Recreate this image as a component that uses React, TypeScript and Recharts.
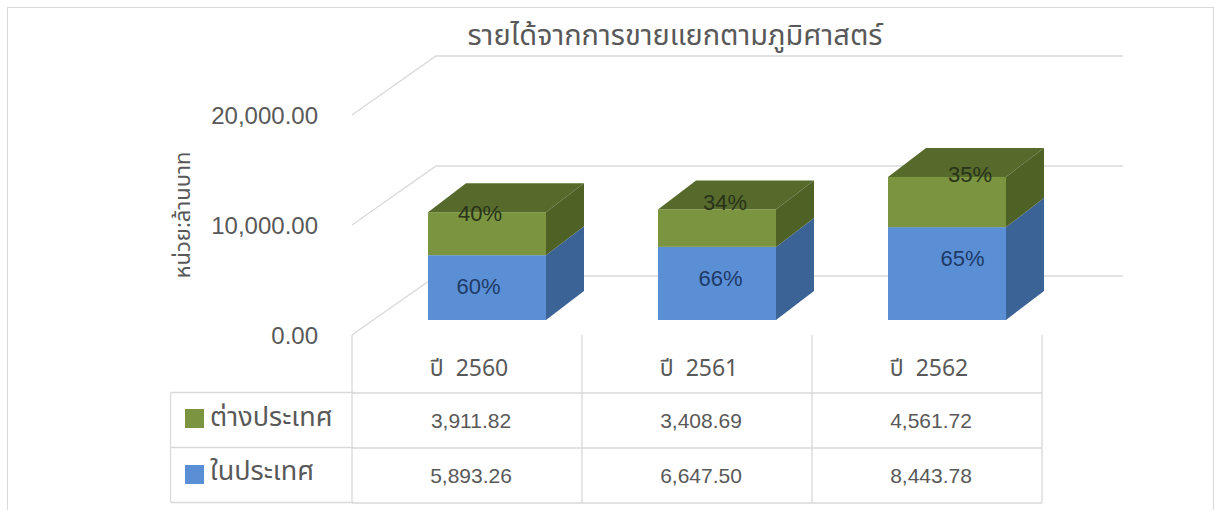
import React from "react";
import { ComposedChart, Bar, XAxis, YAxis, CartesianGrid, Legend } from "recharts";

// ---------- data ----------
const categories = ["ปี  2560", "ปี  2561", "ปี  2562"];
const foreignValues = [3911.82, 3408.69, 4561.72];
const domesticValues = [5893.26, 6647.5, 8443.78];
const yTicks = [0, 10000, 20000];
const FOREIGN_NAME = "ต่างประเทศ";
const DOMESTIC_NAME = "ในประเทศ";
const TITLE = "รายได้จากการขายแยกตามภูมิศาสตร์";
const Y_TITLE = "หน่วย:ล้านบาท";
const tableRowOrder = [FOREIGN_NAME, DOMESTIC_NAME];

const data = categories.map((c, i) => ({
  year: c,
  domestic: domesticValues[i],
  foreign: foreignValues[i],
}));

// ---------- style ----------
const BLUE = { front: "#5A8FD6", side: "#3B6396" };
const GREEN = { front: "#7A9440", side: "#4E6226", top: "#566B2B" };
const WALL_DX = 84;
const WALL_DY = -59;
const BAR_OFF_X = 20;
const BAR_OFF_Y = -15;
const BAR_DX = 38;
const BAR_DY = -29;
const TEXT = "#595959";
const GRID = "#D9D9D9";
const FONT = "'Liberation Sans', Arial, 'Noto Sans', sans-serif";
const THAI_FONT = "'Noto Sans Thai', 'Leelawadee UI', Tahoma, 'Noto Sans', 'DejaVu Sans', sans-serif";

const fmt = (v: number) =>
  v.toLocaleString("en-US", { minimumFractionDigits: 2, maximumFractionDigits: 2 });

function makeShape(colors: any, isTop: boolean) {
  return (p: any) => {
    const { x, y, width: w, height: h, payload } = p;
    if (w == null || h == null || isNaN(x) || isNaN(y)) return <g />;
    const idx = categories.indexOf(payload.year);
    const fx = x + BAR_OFF_X;
    const fy = y + BAR_OFF_Y;
    const total = payload.domestic + payload.foreign;
    const val = isTop ? payload.foreign : payload.domestic;
    const pct = Math.round((val / total) * 100) + "%";
    const side = `${fx + w},${fy} ${fx + w + BAR_DX},${fy + BAR_DY} ${fx + w + BAR_DX},${fy + h + BAR_DY} ${fx + w},${fy + h}`;
    const top = `${fx},${fy} ${fx + BAR_DX},${fy + BAR_DY} ${fx + w + BAR_DX},${fy + BAR_DY} ${fx + w},${fy}`;
    const cx = fx + w / 2 + (isTop ? idx * 15 - 7 : (idx - 0.7) * 12);
    const cy = isTop ? fy - 3 + (idx === 0 ? 4 : idx === 1 ? -4 : 0) : fy + h / 2 - Math.max(0, h - 62) * 0.5;
    return (
      <g>
        {isTop && <polygon points={top} fill={colors.top} />}
        <polygon points={side} fill={colors.side} />
        <rect x={fx} y={fy} width={w} height={h} fill={colors.front} />
        <text
          x={cx}
          y={cy}
          dy="0.36em"
          textAnchor="middle"
          fontSize={22}
          fontFamily={FONT}
          fill={isTop ? "#28331A" : "#1E3A66"}
        >
          {pct}
        </text>
      </g>
    );
  };
}

const GridLine = (p: any) => {
  const { x1, y1, x2 } = p;
  const d = `M${x1},${y1} L${x1 + WALL_DX},${y1 + WALL_DY} L${x2 + WALL_DX - 3},${y1 + WALL_DY}`;
  return <path key={p.key} d={d} fill="none" stroke={GRID} strokeWidth={1.3} />;
};

const TableTick = (p: any) => {
  const { x, y, payload } = p;
  const idx = categories.indexOf(payload.value);
  const band =
    p.width && p.visibleTicksCount ? p.width / p.visibleTicksCount : 2 * (payload.offset || 0);
  const half = band / 2;
  const rowsY = [y + 58, y + 113, y + 168];
  return (
    <g>
      <line x1={x - half} y1={y} x2={x - half} y2={rowsY[2]} stroke={GRID} strokeWidth={1.3} />
      {idx === categories.length - 1 && (
        <line x1={x + half} y1={y} x2={x + half} y2={rowsY[2]} stroke={GRID} strokeWidth={1.3} />
      )}
      {rowsY.map((ry, i) => (
        <line key={i} x1={x - half} y1={ry} x2={x + half} y2={ry} stroke={GRID} strokeWidth={1.3} />
      ))}
      <text x={x + 2} y={y + 33} dy="0.36em" textAnchor="middle" fontSize={23} fill={TEXT} fontFamily={THAI_FONT} style={{ whiteSpace: "pre" }}>
        {payload.value}
      </text>
      <text x={x + 4} y={y + 85} dy="0.36em" textAnchor="middle" fontSize={21} fill={TEXT} fontFamily={FONT}>
        {fmt(foreignValues[idx])}
      </text>
      <text x={x + 4} y={y + 140} dy="0.36em" textAnchor="middle" fontSize={21} fill={TEXT} fontFamily={FONT}>
        {fmt(domesticValues[idx])}
      </text>
    </g>
  );
};

const TableLegend = (props: any) => {
  const payload = props.payload || [];
  const items = tableRowOrder
    .map((n) => payload.find((it: any) => it.value === n))
    .filter(Boolean);
  return (
    <svg width={184} height={112} style={{ display: "block", overflow: "visible" }}>
      <line x1={0.5} y1={0.5} x2={184} y2={0.5} stroke={GRID} strokeWidth={1.3} />
      <line x1={0.5} y1={55.5} x2={184} y2={55.5} stroke={GRID} strokeWidth={1.3} />
      <line x1={0.5} y1={110.5} x2={184} y2={110.5} stroke={GRID} strokeWidth={1.3} />
      <line x1={0.5} y1={0.5} x2={0.5} y2={110.5} stroke={GRID} strokeWidth={1.3} />
      {items.map((it: any, i: number) => (
        <g key={i}>
          <rect x={15} y={17 + i * 56} width={19} height={19} fill={it.color} />
          <text x={40} y={24 + i * 54} dy="0.36em" fontSize={27} fill={TEXT} fontFamily={THAI_FONT}>
            {it.value}
          </text>
        </g>
      ))}
    </svg>
  );
};

const YTitle = (props: any) => {
  const vb = props.viewBox || { x: 160, y: 115, height: 220 };
  const cx = vb.x + 22;
  const cy = vb.y + vb.height / 2 - 10;
  return (
    <text
      x={cx}
      y={cy}
      transform={`rotate(-90 ${cx} ${cy})`}
      textAnchor="middle"
      dy="0.36em"
      fontSize={22}
      fill={TEXT}
      fontFamily={THAI_FONT}
    >
      {Y_TITLE}
    </text>
  );
};

export default function App() {
  return (
    <div style={{ position: "relative", width: 1215, height: 510, background: "#fff", overflow: "hidden" }}>
      <style>{`body{margin:0;overflow:hidden;background:#fff}`}</style>
      <div
        style={{
          position: "absolute",
          left: 7,
          top: 7,
          width: 1205,
          height: 520,
          border: `1px solid ${GRID}`,
        }}
      />
      <div
        style={{
          position: "absolute",
          left: 0,
          width: 1350,
          top: 16,
          textAlign: "center",
          fontSize: 29,
          color: TEXT,
          fontFamily: THAI_FONT,
          lineHeight: "40px",
        }}
      >
        {TITLE}
      </div>
      <div style={{ position: "absolute", left: 0, top: 0 }}>
        <ComposedChart
          width={1215}
          height={510}
          data={data}
          margin={{ top: 115, right: 173, bottom: 5, left: 160 }}
          barSize={118}
        >
          <CartesianGrid vertical={false} horizontal={GridLine as any} stroke={GRID} />
          <XAxis
            dataKey="year"
            height={170}
            axisLine={false}
            tickLine={false}
            tickSize={0}
            tickMargin={0}
            interval={0}
            tick={<TableTick />}
          />
          <YAxis
            type="number"
            domain={[0, 20000]}
            ticks={yTicks}
            interval={0}
            width={192}
            axisLine={false}
            tickLine={false}
            tickSize={0}
            tickMargin={34}
            tickFormatter={fmt}
            tick={{ fill: TEXT, fontSize: 24, fontFamily: FONT }}
            label={{ content: YTitle } as any}
          />
          <Legend
            layout="vertical"
            align="center"
            verticalAlign="middle"
            content={<TableLegend />}
            wrapperStyle={{ left: 170, top: 392, width: 184, height: 112 }}
          />
          <Bar
            dataKey="domestic"
            name={DOMESTIC_NAME}
            stackId="a"
            fill={BLUE.front}
            isAnimationActive={false}
            shape={makeShape(BLUE, false)}
          />
          <Bar
            dataKey="foreign"
            name={FOREIGN_NAME}
            stackId="a"
            fill={GREEN.front}
            isAnimationActive={false}
            shape={makeShape(GREEN, true)}
          />
        </ComposedChart>
      </div>
    </div>
  );
}
